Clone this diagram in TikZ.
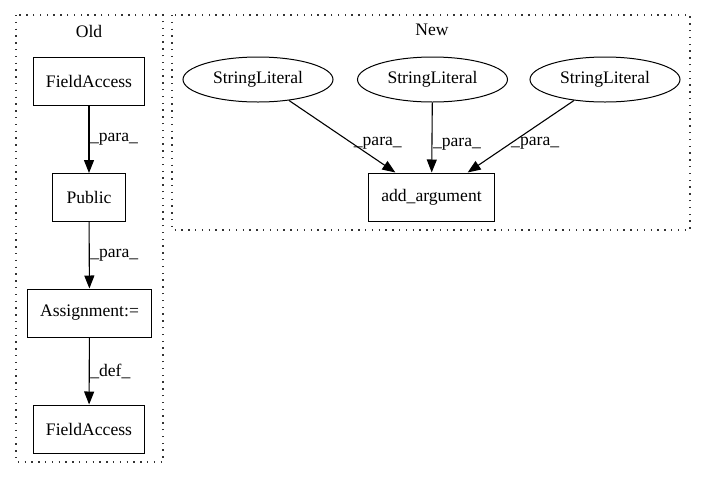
\documentclass[tikz,border=0pt]{standalone}
\usepackage{fontspec}
\setmainfont{Liberation Serif}
\usetikzlibrary{arrows.meta,shapes.geometric}
\begin{document}
\begin{tikzpicture}[x=1pt, y=-1pt, >={Triangle[length=13pt,width=10pt]},
   box_style/.style={rectangle, draw=black, line width=1pt, minimum height=48pt, minimum width=73pt, inner xsep=12.5pt, font=\fontsize{17.6}{21}\selectfont},
   lit_style/.style={ellipse, draw=black, line width=1pt, minimum width=150pt, minimum height=45pt, inner sep=0pt, font=\fontsize{17.6}{21}\selectfont},
   cluster_style/.style={draw=black!80, line width=1.3pt, dash pattern=on 1.4pt off 5.4pt},
   edge_style/.style={draw=black, line width=1.1pt, ->},
   label_style/.style={anchor=west, inner sep=0.5pt, font=\fontsize{17.6}{21}\selectfont}]
	\useasboundingbox (0,0) rectangle (707,480);

	% clusters
	\draw [cluster_style] (16,15) rectangle (163,462);
	\draw [cluster_style] (172,15) rectangle (690,230);
	\node [label_style, anchor=center] (old) at (89,31) {Old};
	\node [label_style, anchor=center] (new) at (432,30) {New};

	\node [box_style] (fa1) at (89,81)  {FieldAccess};
	\node [box_style] (pub) at (89,197.5)  {Public};
	\node [box_style] (asg) at (89.5,313)  {Assignment:=};
	\node [box_style] (fa2) at (89,429)  {FieldAccess};

	\node [lit_style] (s1) at (258,79.5)  {StringLiteral};
	\node [lit_style] (s2) at (432.5,79.5)  {StringLiteral};
	\node [lit_style] (s3) at (605,79.5)  {StringLiteral};
	\node [box_style] (arg) at (431.5,197)  {add\_argument};

	\foreach \from/\to/\lbl/\where in {
		fa1/pub/\_para\_/0.5,
		pub/asg/\_para\_/0.5,
		asg/fa2/\_def\_/0.5,
		s1/arg/\_para\_/0.6,
		s2/arg/\_para\_/0.6,
		s3/arg/\_para\_/0.6
		}
	  \draw [edge_style] (\from) -- node[label_style, pos=\where]{\lbl} (\to);

	\end{tikzpicture}
\end{document}
